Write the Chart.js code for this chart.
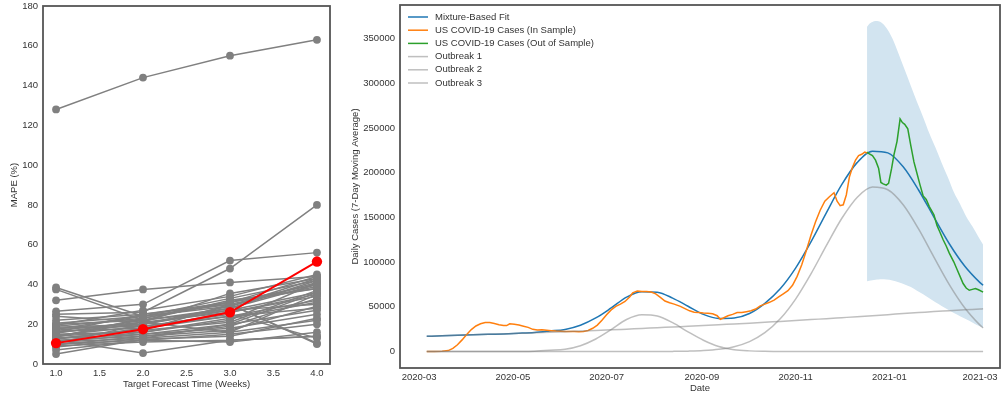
<!DOCTYPE html>
<html>
<head>
<meta charset="utf-8">
<script src="https://cdn.jsdelivr.net/npm/chart.js@4.4.1/dist/chart.umd.min.js"></script>
<style>
    body { margin: 0; background: #fff; }
    #wrap { position: relative; width: 1002px; height: 396px; }
    #mapeChart { position: absolute; left: 0; top: 0; }
    #casesChart { position: absolute; left: 340px; top: 0; }
</style>
</head>
<body>
<div id="wrap">
    <canvas id="mapeChart" width="340" height="396"></canvas>
    <canvas id="casesChart" width="662" height="396"></canvas>
</div>
<script>
// left panel: MAPE per forecast horizon
const weeks = [1, 2, 3, 4];
const weekTicks = [1.0, 1.5, 2.0, 2.5, 3.0, 3.5, 4.0];
const mapeTicks = [0, 20, 40, 60, 80, 100, 120, 140, 160, 180];
const mapeSummary = [10.5, 17.5, 26, 51.5];
const mapeSeries = [
    [128, 144, 155, 163],
    [38.5, 24, 29, 41],
    [37.5, 22, 32, 38],
    [32, 37.5, 41, 44],
    [26.5, 30, 52, 56],
    [25, 26, 48, 80],
    [24, 21, 35.5, 43],
    [22, 25, 30, 10],
    [20.5, 24, 33, 42],
    [20, 22, 28, 40],
    [19, 23, 31, 44],
    [18.5, 20, 27, 36],
    [18, 19, 25, 13],
    [17.5, 24, 30, 39],
    [17, 21, 26, 35],
    [16.5, 18, 24, 32],
    [16, 20, 29, 43],
    [15.5, 22, 27, 30],
    [15, 16, 22, 41],
    [14.5, 19, 24, 28],
    [14, 17, 21, 37],
    [13.5, 23, 31, 40],
    [13, 15, 18, 25],
    [12.5, 18, 26, 34],
    [12, 14, 17, 29],
    [11.5, 16, 23, 31],
    [11, 13, 16, 22],
    [10.5, 20, 28, 42],
    [10, 12, 15, 20],
    [9.5, 14, 19, 33],
    [9, 11, 12, 14],
    [8.5, 13, 20, 27],
    [7, 12, 11, 16],
    [5, 12.5, 14, 23],
    [12, 5.5, 12, 14],
    [16, 25, 31, 38],
    [19.5, 27, 34, 45],
    [13, 17, 30, 10.5],
    [11, 15, 20, 36],
    [14, 21, 16, 35]
];

// right panel: days counted from 2020-03-01
const dateTickDays = [0, 61, 122, 184, 245, 306, 365];
const dateTickLabels = ['2020-03', '2020-05', '2020-07', '2020-09', '2020-11', '2021-01', '2021-03'];
const caseTicks = [0, 50000, 100000, 150000, 200000, 250000, 300000, 350000];

const fitDays = [5, 15, 25, 35, 45, 55, 65, 75, 85, 95, 105, 115, 125, 135, 145, 155, 165, 175, 185,
    195, 205, 215, 225, 235, 245, 255, 265, 275, 285, 295, 305, 315, 325, 335, 345, 355, 365, 367];
const fitValues = [17000, 17500, 18100, 18600, 19200, 19700, 20400, 21300, 22900, 24700, 29400, 37500,
    48700, 60800, 66900, 66300, 59700, 50600, 41500, 37000, 37500, 42500, 53900, 70100, 93200, 122500,
    155000, 186500, 211200, 224000, 222100, 206500, 180600, 150300, 120500, 95600, 77000, 74100];
const outbreak1 = [17000, 17500, 18100, 18600, 19200, 19700, 20300, 20900, 21600, 22200, 22900, 23500,
    24200, 25000, 25800, 26600, 27400, 28200, 29000, 29900, 30800, 31700, 32700, 33600, 34600, 35700,
    36700, 37800, 38900, 40100, 41200, 42400, 43500, 44700, 45600, 46600, 47500, 47700];
const outbreak2 = [0, 0, 0, 0, 0, 0, 100, 400, 1300, 2500, 6500, 14000, 24500, 35800, 41100, 39700,
    32200, 22000, 12600, 5500, 2000, 700, 200, 0, 0, 0, 0, 0, 0, 0, 0, 0, 0, 0, 0, 0, 0, 0];
const outbreak3 = [0, 0, 0, 0, 0, 0, 0, 0, 0, 0, 0, 0, 0, 0, 0, 0, 130, 400, 1000, 2400, 5400, 11100,
    21000, 36500, 58600, 86800, 118300, 148700, 172300, 183900, 180900, 164100, 137100, 105600, 74900,
    49000, 29500, 26400];

const inSampleDays = [5, 10, 15, 19, 22, 25, 28, 31, 34, 37, 40, 43, 46, 49, 52, 55, 57, 59, 62, 65, 68,
    71, 74, 77, 80, 83, 86, 89, 92, 95, 98, 101, 104, 107, 110, 113, 116, 119, 122, 125, 128, 131, 134,
    137, 139, 142, 145, 148, 151, 154, 157, 160, 163, 166, 170, 173, 176, 179, 182, 185, 188, 191, 194,
    196, 198, 201, 204, 207, 210, 213, 216, 219, 222, 225, 228, 231, 234, 237, 240, 243, 246, 249, 252,
    255, 258, 261, 264, 267, 270, 272, 274, 276, 278, 280, 282, 284, 286, 288, 290, 291.5];
const inSampleCases = [0, 0, 200, 1000, 3500, 7500, 13000, 19000, 24500, 28500, 31000, 32500, 32300,
    31200, 30000, 29200, 29000, 31000, 30500, 29600, 28300, 27000, 24800, 24000, 24200, 23800, 23300,
    22800, 22700, 22400, 22300, 22500, 22200, 22400, 23500, 26000, 29500, 35000, 41000, 46500, 50500,
    53000, 56000, 61000, 65500, 67500, 67000, 67200, 66500, 64500, 60500, 56500, 54500, 53000, 50500,
    48000, 45500, 44000, 43500, 43000, 42700, 42200, 40000, 36000, 37500, 40000, 41500, 43500, 43500,
    44500, 45500, 47500, 51000, 53000, 55000, 57500, 61000, 64500, 68000, 74000, 84000, 97000, 113000,
    130000, 145000, 158000, 168000, 173000, 177500, 168000, 163000, 164000, 175000, 195000, 206000,
    214000, 219000, 220500, 223000, 222000];

const outSampleDays = [291.5, 293, 295, 297, 299, 300.5, 302, 304, 305.5, 307.5, 309, 311, 313, 314.5,
    316, 318, 320, 322, 324, 326, 328, 330, 332, 335, 337, 339, 341, 343, 345, 348, 350, 352, 354, 356,
    358, 360, 362, 364, 367];
const outSampleCases = [223000, 221000, 219000, 214000, 205000, 189000, 187500, 186000, 188000, 205000,
    220000, 235000, 260000, 256000, 254000, 249000, 230000, 212000, 199000, 186000, 174000, 170000,
    162000, 153000, 141000, 133000, 125000, 118000, 110000, 100000, 92000, 84000, 76000, 71000, 68500,
    69500, 70500, 69000, 66300];

const bandDays = [291.5, 293, 295, 297, 299, 301, 304, 308, 312, 316, 320, 324, 328, 332, 336, 340, 344,
    348, 352, 356, 360, 364, 367];
const bandUpper = [363000, 366500, 368500, 369500, 369300, 367500, 362000, 350000, 333000, 315000,
    297000, 279000, 262000, 244000, 228000, 211000, 195000, 178000, 165000, 151000, 140000, 128000, 119500];
const bandLower = [78600, 79200, 79800, 80300, 80600, 80700, 80500, 79500, 77500, 75000, 72000, 68000,
    64000, 59500, 55000, 51000, 47000, 43000, 39500, 36000, 32500, 28800, 26500];

Chart.defaults.font.family = '"Liberation Sans", Arial, sans-serif';
Chart.defaults.font.size = 9.5;
Chart.defaults.color = '#333';

function points(xs, ys) {
    return xs.map((x, i) => ({x: x, y: ys[i]}));
}

const frame = {
    id: 'frame',
    afterDraw(chart) {
        const a = chart.chartArea;
        const ctx = chart.ctx;
        ctx.save();
        ctx.strokeStyle = '#555';
        ctx.lineWidth = 1.8;
        ctx.strokeRect(a.left, a.top, a.right - a.left, a.bottom - a.top);
        ctx.restore();
    }
};

const insideLegend = {
    id: 'insideLegend',
    afterDraw(chart) {
        const a = chart.chartArea;
        const ctx = chart.ctx;
        ctx.save();
        ctx.font = '9.5px "Liberation Sans", Arial, sans-serif';
        ctx.textBaseline = 'middle';
        chart.data.datasets.filter(d => d.inLegend).forEach((d, i) => {
            const y = a.top + 12 + i * 13.2;
            ctx.strokeStyle = d.borderColor;
            ctx.lineWidth = 1.5;
            ctx.beginPath();
            ctx.moveTo(a.left + 8, y);
            ctx.lineTo(a.left + 28, y);
            ctx.stroke();
            ctx.fillStyle = '#333';
            ctx.fillText(d.label, a.left + 35, y);
        });
        ctx.restore();
    }
};

// fixed axis boxes so the plot areas land where the reference has them
function fixWidth(w) {
    return scale => {
        scale.width = w;
        scale.paddingTop = 0;
        scale.paddingBottom = 0;
    };
}

function fixHeight(h) {
    return scale => {
        scale.height = h;
        scale.paddingLeft = 0;
        scale.paddingRight = 0;
    };
}

const mapeDatasets = mapeSeries.map(s => ({
    data: points(weeks, s),
    borderColor: '#808080',
    backgroundColor: '#808080',
    borderWidth: 1.5,
    pointRadius: 3.9,
    pointBorderWidth: 0,
    order: 1
}));
mapeDatasets.push({
    data: points(weeks, mapeSummary),
    borderColor: '#ff0000',
    backgroundColor: '#ff0000',
    borderWidth: 2,
    pointRadius: 5.2,
    pointBorderWidth: 0,
    order: 0
});

new Chart(document.getElementById('mapeChart'), {
    type: 'line',
    data: {datasets: mapeDatasets},
    options: {
        responsive: false,
        animation: false,
        layout: {padding: {top: 6, right: 10, left: 0, bottom: 0}},
        plugins: {legend: {display: false}, tooltip: {enabled: false}},
        scales: {
            x: {
                type: 'linear',
                min: 0.85,
                max: 4.15,
                grid: {display: false, drawTicks: false},
                border: {display: false},
                afterBuildTicks: scale => { scale.ticks = weekTicks.map(v => ({value: v})); },
                afterFit: fixHeight(32),
                ticks: {padding: 4, callback: v => v.toFixed(1)},
                title: {display: true, text: 'Target Forecast Time (Weeks)', padding: {top: 0, bottom: 6}}
            },
            y: {
                min: 0,
                max: 180,
                grid: {display: false, drawTicks: false},
                border: {display: false},
                afterBuildTicks: scale => { scale.ticks = mapeTicks.map(v => ({value: v})); },
                afterFit: fixWidth(43),
                ticks: {padding: 5},
                title: {display: true, text: 'MAPE (%)', padding: {top: 9, bottom: 0}}
            }
        }
    },
    plugins: [frame]
});

const grey = 'rgba(128,128,128,0.5)';

new Chart(document.getElementById('casesChart'), {
    type: 'line',
    data: {
        datasets: [
            {label: 'Mixture-Based Fit', inLegend: true, data: points(fitDays, fitValues),
                borderColor: '#1f77b4', cubicInterpolationMode: 'monotone', order: 6},
            {label: 'US COVID-19 Cases (In Sample)', inLegend: true, data: points(inSampleDays, inSampleCases),
                borderColor: '#ff7f0e', order: 5},
            {label: 'US COVID-19 Cases (Out of Sample)', inLegend: true, data: points(outSampleDays, outSampleCases),
                borderColor: '#2ca02c', order: 4},
            {label: 'Outbreak 1', inLegend: true, data: points(fitDays, outbreak1),
                borderColor: grey, cubicInterpolationMode: 'monotone', order: 3},
            {label: 'Outbreak 2', inLegend: true, data: points(fitDays, outbreak2),
                borderColor: grey, cubicInterpolationMode: 'monotone', order: 2},
            {label: 'Outbreak 3', inLegend: true, data: points(fitDays, outbreak3),
                borderColor: grey, cubicInterpolationMode: 'monotone', order: 1},
            {data: points(bandDays, bandLower), borderWidth: 0, borderColor: 'rgba(0,0,0,0)',
                cubicInterpolationMode: 'monotone', fill: false, order: 10},
            {data: points(bandDays, bandUpper), borderWidth: 0, borderColor: 'rgba(0,0,0,0)',
                backgroundColor: 'rgb(210,228,240)', cubicInterpolationMode: 'monotone', fill: '-1', order: 10}
        ]
    },
    options: {
        responsive: false,
        animation: false,
        elements: {line: {borderWidth: 1.5}, point: {radius: 0}},
        layout: {padding: {top: 5, right: 2, left: 0, bottom: 0}},
        plugins: {legend: {display: false}, tooltip: {enabled: false}},
        scales: {
            x: {
                type: 'linear',
                min: -12.4,
                max: 378,
                grid: {display: false, drawTicks: false},
                border: {display: false},
                afterBuildTicks: scale => { scale.ticks = dateTickDays.map(v => ({value: v})); },
                afterFit: fixHeight(28),
                ticks: {padding: 4, callback: (v, i) => dateTickLabels[i]},
                title: {display: true, text: 'Date', padding: {top: 0, bottom: 2}}
            },
            y: {
                min: -18450,
                max: 387450,
                grid: {display: false, drawTicks: false},
                border: {display: false},
                afterBuildTicks: scale => { scale.ticks = caseTicks.map(v => ({value: v})); },
                afterFit: fixWidth(60),
                ticks: {padding: 5, callback: v => String(v)},
                title: {display: true, text: 'Daily Cases (7-Day Moving Average)', padding: {top: 10, bottom: 0}}
            }
        }
    },
    plugins: [frame, insideLegend]
});
</script>
</body>
</html>
